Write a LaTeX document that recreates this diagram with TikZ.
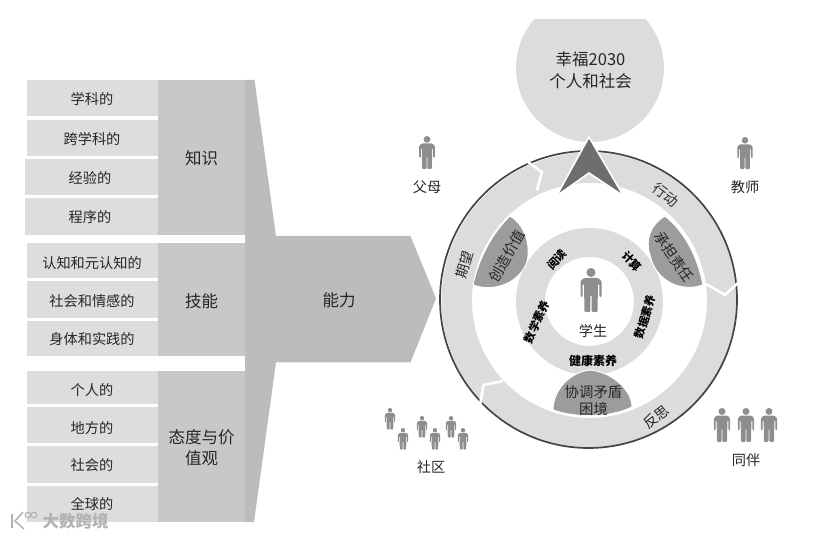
\documentclass[tikz,border=0pt]{standalone}
\usepackage{fontspec}
\setmainfont{Noto Sans CJK SC}
\definecolor{cellg}{HTML}{DDDDDF}
\definecolor{midg}{HTML}{C8C8CA}
\definecolor{fung}{HTML}{BCBCBE}
\definecolor{ringg}{HTML}{DCDCDC}
\definecolor{lensg}{HTML}{9C9C9C}
\definecolor{arrg}{HTML}{6E6E6E}
\definecolor{persg}{HTML}{8E8E8E}
\definecolor{inkg}{HTML}{262626}
\definecolor{edgeg}{HTML}{444444}
\tikzset{
  lab/.style={font=\fontsize{14.2}{16}\selectfont,text=inkg,inner sep=0pt},
  big/.style={font=\fontsize{16.5}{19}\selectfont,text=inkg,inner sep=0pt,align=center},
  small/.style={font=\bfseries\fontsize{11.2}{13}\selectfont,text=black,inner sep=0pt},
  ringlab/.style={font=\fontsize{14}{16}\selectfont,text=inkg,inner sep=0pt},
  lenslab/.style={font=\fontsize{14.4}{17}\selectfont,text=inkg,inner sep=0pt,align=center},
  cell/.style={fill=cellg,draw=none},
  midcol/.style={fill=midg,draw=none},
  sep/.style={draw=white,line width=2.6pt,line join=miter},
  lens/.style={fill=lensg,draw=white,line width=1pt},
}
\newcommand{\figperson}[3]{%
  \begin{scope}[shift={(#1,#2)},scale=#3]
    \fill[persg] (0,4.5) circle (4.5);
    \fill[persg,rounded corners=1pt] (-7,10) -- (7,10) -- (10.5,13) -- (10.5,29) -- (8.3,29) -- (8.3,16) -- (7,16)
      -- (6.5,44) -- (0.6,44) -- (0.6,27) -- (-0.6,27) -- (-0.6,44) -- (-6.5,44) -- (-7,16) -- (-8.3,16)
      -- (-8.3,29) -- (-10.5,29) -- (-10.5,13) -- cycle;
  \end{scope}}
\begin{document}
\begin{tikzpicture}[x=1pt,y=-1pt]
\useasboundingbox (0,0) rectangle (833,537);
% goal circle
\begin{scope}
  \clip (480,20) rectangle (700,150);
  \fill[ringg] (590,68) circle (74);
\end{scope}
% left cells
\fill[cell] (27,80) rectangle (158,116.5);
\fill[cell] (27,120) rectangle (158,156);
\fill[cell] (25,159) rectangle (158,195);
\fill[cell] (25,198) rectangle (158,235);
\fill[cell] (27,243) rectangle (158,278);
\fill[cell] (27,281) rectangle (158,318);
\fill[cell] (27,321) rectangle (158,356);
\fill[cell] (27,371) rectangle (158,404);
\fill[cell] (27,407) rectangle (158,443);
\fill[cell] (27,446) rectangle (158,483);
\fill[cell] (27,486) rectangle (158,522);
\fill[midcol] (158,80) rectangle (245,235);
\fill[midcol] (158,243) rectangle (245,356);
\fill[midcol] (158,371) rectangle (245,522);
\fill[fung] (245,80) -- (254.5,80) -- (276,236) -- (410.5,236) -- (436,298.5) -- (410.5,362.5) -- (276,362.5) -- (254,522) -- (245,522) -- cycle;
% ring
\fill[ringg,even odd rule] (589,300) circle (147.5) (589.5,300.5) circle (117.5);
\draw[edgeg,line width=1.7pt] (588.5,299.5) circle (148.5);
\draw[sep] (525,160) -- (542,172) -- (537,190);
\draw[sep] (740,281) -- (725,295) -- (706,284);
\draw[sep] (480,405) -- (483.5,385) -- (503,381);
% top arrowhead
\fill[arrg,draw=white,line width=1.6pt,line join=miter] (589,137) -- (623.5,196) -- (589,173) -- (556.5,196) -- cycle;
% inner rings
\fill[ringg,even odd rule] (589.5,301.5) circle (73.5) (589.5,301.5) circle (44.5);
% lenses
\path[lens] (510,216) .. controls (525,225) and (531,245) .. (527,262) .. controls (520,282) and (495,293) .. (473,285) .. controls (478,260) and (492,233) .. (510,216) -- cycle;
\path[lens] (665,216) .. controls (685,232) and (698,258) .. (703,285) .. controls (680,293) and (655,280) .. (650,255) .. controls (645,240) and (650,225) .. (665,216) -- cycle;
\path[lens] (553,410) .. controls (553,390) and (570,372) .. (590,370) .. controls (612,372) and (632,390) .. (632,407) .. controls (610,418) and (575,418) .. (553,410) -- cycle;
% persons
\figperson{591}{268}{1}
\figperson{427}{136}{0.75}
\figperson{745}{137}{0.73}
\figperson{722}{408}{0.77}
\figperson{746}{408}{0.77}
\figperson{769}{408}{0.77}
\figperson{390}{408}{0.49}
\figperson{403}{428}{0.49}
\figperson{422}{416}{0.49}
\figperson{435}{428}{0.49}
\figperson{451}{416}{0.49}
\figperson{463}{428}{0.49}
% left labels
\node[lab] (a1) at (92,99.5) {学科的};
\node[lab] (a2) at (92,139) {跨学科的};
\node[lab] (a3) at (90,178) {经验的};
\node[lab] (a4) at (90,217) {程序的};
\node[lab] (b1) at (92,263) {认知和元认知的};
\node[lab] (b2) at (92,301) {社会和情感的};
\node[lab] (b3) at (92,339) {身体和实践的};
\node[lab] (c1) at (92,390) {个人的};
\node[lab] (c2) at (92,428) {地方的};
\node[lab] (c3) at (92,465) {社会的};
\node[lab] (c4) at (92,504) {全球的};
\node[big] (know) at (201.5,158.5) {知识};
\node[big] (skill) at (201.5,301.5) {技能};
\node[big,text width=80pt,font=\fontsize{16.5}{21}\selectfont] (att) at (201.5,447.5) {态度与价\\值观};
\node[big] (comp) at (339,300.5) {能力};
\node[big,font=\fontsize{16.5}{22}\selectfont] (goal) at (590.5,70) {幸福2030\\个人和社会};
% outer labels
\node[lab] (parent) at (427,187) {父母};
\node[lab] (teacher) at (745,187) {教师};
\node[lab] (comm) at (431,467) {社区};
\node[lab] (peer) at (746,460) {同伴};
\node[lab] (stu) at (593,331) {学生};
% ring labels
\node[ringlab,rotate=-37] (act) at (666,195) {行动};
\node[ringlab,rotate=73] (exp) at (464.5,265) {期望};
\node[ringlab,rotate=38] (ref) at (656.5,417) {反思};
% lens labels
\node[lenslab,rotate=60] (l1) at (507,256) {创造价值};
\node[lenslab,rotate=-55] (l2) at (674,257) {承担责任};
\node[lenslab] (l3) at (593.5,400.5) {协调矛盾\\困境};
% inner ring labels
\node[small,rotate=45] (r1) at (557,260) {阅读};
\node[small,rotate=-45] (r2) at (632,261) {计算};
\node[small,rotate=66] (r3) at (537,322) {数学素养};
\node[small,rotate=74] (r4) at (645,317) {数据素养};
\node[small,font=\bfseries\fontsize{12}{14}\selectfont] (r5) at (593,361) {健康素养};
% watermark
\node[font=\bfseries\fontsize{16.5}{18}\selectfont,text=black!30,inner sep=0pt] (wm) at (75.5,521.5) {大数跨境};
\draw[black!30,line width=1.5pt] (12,514) -- (12,528);
\draw[black!30,line width=1.5pt] (23,512) -- (15,521) -- (24,529);
\draw[black!30,line width=1pt] (28,515) circle (2.8) (34,515) circle (2.8);
\end{tikzpicture}
\end{document}
